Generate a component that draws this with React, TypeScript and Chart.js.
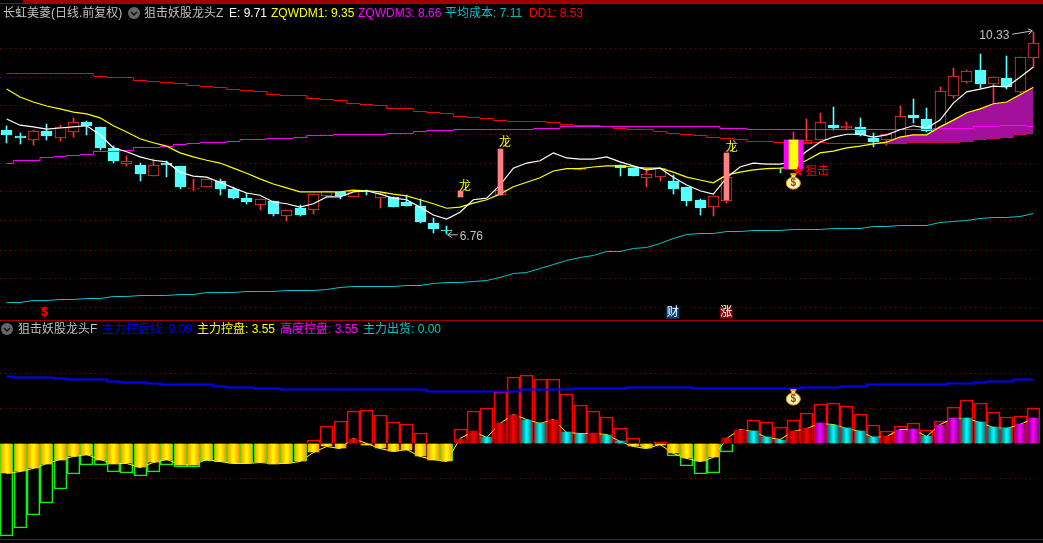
import { useEffect, useRef } from "react";
import { Chart, registerables } from "chart.js";

Chart.register(...registerables);

const FONT = "'Liberation Sans', 'Noto Sans CJK SC', sans-serif";
const RED = "#ff3232";
const CYAN = "#54ffff";
const GRID = "#8c0000";

// price panel, one entry per trading day (null = candle not painted by the formula)
const OPEN = [
  8.60,8.49,8.42,8.58,8.45,8.56,8.74,8.65,8.28,7.99,
  7.98,7.78,8.01,7.96,7.55,7.59,7.69,7.55,7.39,7.27,
  7.34,7.07,7.21,7.18,7.43,7.50,7.41,7.52,7.39,7.41,
  7.32,7.25,6.95,6.83,null,null,null,7.45,null,null,
  null,null,null,7.89,null,null,7.98,7.92,7.75,7.76,
  7.69,7.59,7.36,7.23,7.34,null,null,null,null,7.91,
  8.35,8.42,8.68,8.63,8.65,8.45,8.42,8.44,8.86,8.79,
  8.60,9.20,9.45,9.66,9.41,9.52,9.27,9.87,
];
const CLOSE = [
  8.51,8.46,8.58,8.49,8.65,8.74,8.67,8.28,8.05,8.05,
  7.82,7.98,7.98,7.59,7.57,7.73,7.55,7.39,7.32,7.37,
  7.11,7.18,7.09,7.46,7.52,7.43,7.52,7.51,7.48,7.23,
  7.25,6.97,6.85,6.81,null,null,null,7.53,null,null,
  null,null,null,7.92,null,null,7.92,7.78,7.82,7.92,
  7.55,7.34,7.21,7.43,7.76,null,null,null,null,8.42,
  8.41,8.74,8.63,8.67,8.51,8.38,8.52,8.84,8.81,8.58,
  9.29,9.55,9.64,9.41,9.53,9.36,9.89,10.14,
];
const HIGH = [
  8.67,8.54,8.59,8.70,8.68,8.81,8.75,8.65,8.31,8.14,
  8.01,8.08,8.05,7.96,7.73,7.73,7.73,7.59,7.48,7.37,
  7.34,7.18,7.27,7.46,7.52,7.50,7.52,7.53,7.50,7.41,
  7.44,7.37,7.04,6.90,null,null,null,7.53,null,null,
  null,null,null,7.92,null,null,7.98,7.92,7.91,7.92,
  7.80,7.59,7.37,7.43,7.76,null,null,null,7.91,8.56,
  8.79,8.90,9.00,8.74,8.81,8.54,8.52,9.02,9.14,8.98,
  9.36,9.69,9.66,9.94,9.53,9.91,9.89,10.33,
];
const LOW = [
  8.37,8.35,8.33,8.42,8.40,8.47,8.51,8.24,8.01,7.96,
  7.69,7.78,7.76,7.55,7.52,7.59,7.44,7.37,7.29,7.18,
  7.07,6.98,7.07,7.11,7.43,7.37,7.41,7.44,7.21,7.23,
  7.25,6.95,6.77,6.76,null,null,null,7.45,null,null,
  null,null,null,7.89,null,null,7.78,7.78,7.59,7.69,
  7.46,7.25,7.09,7.07,7.30,null,null,null,7.83,7.91,
  8.35,8.42,8.60,8.60,8.49,8.29,8.33,8.44,8.72,8.56,
  8.60,9.16,9.43,9.34,9.07,9.32,9.25,9.71,
];
const E_LINE = [
  8.79,8.68,8.65,8.61,8.63,8.65,8.67,8.51,8.28,8.21,
  8.12,8.06,8.03,7.85,7.78,7.76,7.67,7.57,7.48,7.44,
  7.32,7.29,7.23,7.29,7.41,7.41,7.50,7.52,7.46,7.39,
  7.36,7.23,7.09,7.02,7.14,7.36,7.39,7.62,7.92,8.01,
  8.05,8.19,8.10,8.08,8.08,8.12,8.03,7.96,7.89,7.92,
  7.76,7.62,7.52,7.46,7.75,7.94,8.01,7.99,7.99,8.03,
  8.22,8.38,8.47,8.52,8.52,8.47,8.51,8.60,8.67,8.63,
  8.77,9.07,9.27,9.32,9.37,9.36,9.53,9.71,
];
const ZQWDM1 = [
  9.32,9.18,9.09,9.02,8.97,8.91,8.88,8.81,8.67,8.56,
  8.44,8.37,8.31,8.19,8.12,8.06,8.01,7.92,7.83,7.73,
  7.64,7.57,7.50,7.50,7.50,7.50,7.53,7.52,7.50,7.46,
  7.43,7.36,7.29,7.21,7.23,7.30,7.36,7.46,7.59,7.67,
  7.75,7.87,7.91,7.91,7.94,7.96,7.96,7.94,7.92,7.92,
  7.85,7.76,7.71,7.66,7.80,7.85,7.89,7.91,7.92,7.94,
  8.06,8.19,8.22,8.28,8.31,8.35,8.38,8.47,8.51,8.51,
  8.65,8.77,8.90,8.97,9.06,9.09,9.22,9.35,
];
const ZQWDM3 = [
  8.01,8.05,8.06,8.10,8.12,8.15,8.17,8.21,8.22,8.24,
  8.28,8.29,8.31,8.33,8.35,8.37,8.38,8.40,8.42,8.42,
  8.44,8.45,8.47,8.49,8.49,8.51,8.51,8.52,8.52,8.54,
  8.54,8.56,8.58,8.58,8.60,8.60,8.60,8.61,8.61,8.61,
  8.63,8.63,8.65,8.65,8.65,8.65,8.65,8.65,8.65,8.65,
  8.65,8.65,8.65,8.65,8.63,8.63,8.61,8.61,8.60,8.60,
  8.60,8.60,8.60,8.60,8.60,8.60,8.60,8.60,8.61,8.61,
  8.63,8.63,8.63,8.65,8.65,8.67,8.67,8.66,
];
const DD1 = [
  9.59,9.59,9.59,9.59,9.59,9.59,9.59,9.55,9.53,9.52,
  9.48,9.46,9.44,9.41,9.39,9.36,9.34,9.32,9.29,9.27,
  9.23,9.21,9.20,9.16,9.14,9.11,9.07,9.04,9.02,8.98,
  8.97,8.93,8.90,8.88,8.84,8.82,8.79,8.77,8.75,8.75,
  8.74,8.72,8.70,8.68,8.67,8.65,8.63,8.61,8.60,8.56,
  8.54,8.52,8.49,8.47,8.44,8.42,8.40,8.40,8.38,8.38,
  8.38,8.37,8.35,8.35,8.35,8.35,8.35,8.35,8.37,8.37,
  8.37,8.38,8.40,8.42,8.44,8.47,8.51,8.53,
];
const AVG_COST = [
  5.55,5.55,5.57,5.57,5.59,5.59,5.62,5.62,5.64,5.64,
  5.66,5.66,5.67,5.69,5.69,5.71,5.71,5.71,5.73,5.73,
  5.73,5.75,5.76,5.76,5.78,5.80,5.82,5.82,5.83,5.83,
  5.85,5.85,5.87,5.89,5.89,5.91,5.94,5.98,6.05,6.08,
  6.15,6.21,6.29,6.33,6.38,6.44,6.45,6.49,6.51,6.58,
  6.68,6.74,6.77,6.77,6.79,6.79,6.81,6.81,6.81,6.83,
  6.84,6.84,6.86,6.86,6.86,6.88,6.88,6.90,6.91,6.91,
  6.95,6.97,7.00,7.02,7.04,7.05,7.07,7.11,
];
const PINK_STICKS: Record<number, [number, number]> = { 34: [7.41, 7.52], 37: [7.45, 8.26], 54: [7.36, 8.19] };
const BLOCK_DAY = 59;
const BLOCK_RANGE: [number, number] = [7.91, 8.42];
const AREA_FROM = 65;
const PRICE_GRID = [10.03, 9.53, 9.02, 8.51, 8.0, 7.5, 6.985, 6.47, 5.96, 5.46];

// indicator panel
const CONTROL_LINE = [
  9.51,9.37,9.37,9.37,9.23,9.09,8.95,8.95,8.80,8.66,
  8.66,8.52,8.38,8.38,8.24,8.24,8.09,7.95,7.95,7.81,
  7.81,7.67,7.67,7.67,7.53,7.53,7.53,7.53,7.53,7.53,
  7.53,7.53,7.38,7.38,7.38,7.38,7.38,7.38,7.38,7.53,
  7.53,7.67,7.67,7.81,7.81,7.81,7.81,7.95,7.95,7.95,
  7.95,7.95,7.81,7.81,7.81,7.81,7.81,7.81,7.81,7.81,
  7.95,7.95,7.95,8.09,8.09,8.24,8.24,8.24,8.38,8.38,
  8.38,8.52,8.52,8.66,8.80,8.80,8.95,9.09,
];
const OUTLINE = [
  -13.16,-12.07,-10.23,-8.52,-6.53,-4.40,-3.12,-3.12,-4.12,-4.26,
  -4.69,-4.12,-3.12,-3.41,-3.41,-2.56,-2.66,-2.84,-2.84,-2.70,
  -2.98,-2.84,-2.56,0.43,2.41,3.12,4.54,4.69,3.98,2.98,
  2.70,1.42,-2.41,-2.56,1.99,4.54,4.97,7.24,9.37,9.66,
  9.09,9.09,6.96,5.40,4.54,3.69,2.13,0.71,-0.43,0.15,
  -1.85,-3.27,-4.40,-4.26,-1.28,1.85,3.27,2.98,2.27,3.27,
  4.26,5.54,5.68,5.25,4.12,2.56,1.70,2.41,2.84,1.85,
  3.12,5.11,6.11,5.68,4.40,3.69,3.83,4.97,
];
const CONTROL = [
  -4.26,-3.98,-3.55,-2.98,-2.41,-1.85,-1.70,-2.41,-2.98,-2.84,
  -3.41,-2.70,-2.41,-3.12,-3.12,-2.41,-2.56,-2.84,-2.84,-2.70,
  -2.98,-2.84,-2.56,-1.28,-0.43,-0.71,0.57,-0.14,-0.71,-1.14,
  -0.99,-1.85,-2.41,-2.56,0.57,1.70,0.85,2.84,3.98,3.27,
  2.84,3.27,1.56,1.28,1.42,1.14,0.28,-0.43,-0.71,-0.28,
  -1.42,-2.13,-2.56,-1.99,0.71,1.85,1.70,0.85,0.43,1.70,
  2.13,2.84,2.56,2.13,1.70,0.85,0.99,1.85,1.99,0.99,
  2.56,3.55,3.55,2.98,2.27,2.13,2.70,3.55,
];
const BAR_KIND = [
  "o","o","o","o","o","o","o","o","o","o",
  "o","o","o","o","o","o","o","o","o","o",
  "o","o","o","o","o","o","r","o","o","o",
  "o","o","o","o","r","r","c","r","r","c",
  "c","r","c","c","r","c","c","o","o","o",
  "o","o","o","o","r","r","c","c","c","r",
  "r","m","c","c","c","c","r","m","m","c",
  "m","m","c","c","c","c","m","m",
];
const KIND_COLORS: Record<string, [string, string]> = {
  o: ["#ff9c00", "#ffff00"],
  r: ["#7c0000", "#ff0000"],
  c: ["#007070", "#00ffff"],
  m: ["#7c007c", "#ff00ff"],
};
const INDICATOR_GRID = [9.94, 4.97, 0, -4.97];

const DAYS = OPEN.map((_, i) => String(i + 1));

const HEADER_TOP = [
  { text: "长虹美菱(日线.前复权)", x: 3, color: "#c0c0c0" },
  { text: "狙击妖股龙头Z", x: 144, color: "#c0c0c0" },
  { text: "E: 9.71", x: 229, color: "#ffffff" },
  { text: "ZQWDM1: 9.35", x: 271, color: "#ffff00" },
  { text: "ZQWDM3: 8.66", x: 358, color: "#ff00ff" },
  { text: "平均成本: 7.11", x: 445, color: "#00c0c0" },
  { text: "DD1: 8.53", x: 529, color: "#ff0000" },
];
const HEADER_BOTTOM = [
  { text: "狙击妖股龙头F", x: 18, color: "#c0c0c0" },
  { text: "主力控盘线: 9.09", x: 102, color: "#0000ff" },
  { text: "主力控盘: 3.55", x: 197, color: "#ffff00" },
  { text: "高度控盘: 3.55", x: 280, color: "#ff00ff" },
  { text: "主力出货: 0.00", x: 363, color: "#00c8c8" },
];

// keep bars on whole pixels and flat lines crisp, the terminal draws without antialiasing
const snapPlugin = {
  id: "snap",
  afterDatasetsUpdate(chart: any) {
    chart.getSortedVisibleDatasetMetas().forEach((meta: any) => {
      meta.data.forEach((el: any) => {
        if (meta.type === "bar") {
          if (el.skip || el.y == null || Number.isNaN(el.y)) return;
          el.x = Math.round(el.x - el.width / 2) + el.width / 2;
          el.y = Math.round(el.y);
          el.base = Math.round(el.base);
          if (el.y === el.base) el.base += 1;
        } else if (chart.data.datasets[meta.index].borderWidth === 1 || chart.data.datasets[meta.index].stepped) {
          el.y = Math.floor(el.y) + 0.5;
        }
      });
    });
  },
};

function drawBag(ctx: CanvasRenderingContext2D, x: number, y: number) {
  ctx.save();
  ctx.fillStyle = "#e8a000";
  ctx.fillRect(x - 3, y - 8, 6, 2);
  ctx.fillStyle = "#fff0b8";
  ctx.fillRect(x - 2, y - 6, 4, 2);
  ctx.beginPath();
  ctx.ellipse(x, y + 2, 7, 6, 0, 0, Math.PI * 2);
  ctx.fillStyle = "#fff0b8";
  ctx.fill();
  ctx.strokeStyle = "#e8a000";
  ctx.lineWidth = 1;
  ctx.stroke();
  ctx.fillStyle = "#8a4a10";
  ctx.font = "bold 10px " + FONT;
  ctx.textAlign = "center";
  ctx.textBaseline = "middle";
  ctx.fillText("$", x, y + 2);
  ctx.restore();
}

function arrow(ctx: CanvasRenderingContext2D, x0: number, y0: number, x1: number, y1: number) {
  const a = Math.atan2(y1 - y0, x1 - x0);
  ctx.beginPath();
  ctx.moveTo(x0, y0);
  ctx.lineTo(x1, y1);
  ctx.moveTo(x1 - 5 * Math.cos(a - 0.6), y1 - 5 * Math.sin(a - 0.6));
  ctx.lineTo(x1, y1);
  ctx.lineTo(x1 - 5 * Math.cos(a + 0.6), y1 - 5 * Math.sin(a + 0.6));
  ctx.stroke();
}

function badge(ctx: CanvasRenderingContext2D, x: number, y: number, text: string, bg: string) {
  ctx.fillStyle = bg;
  ctx.fillRect(x - 6, y - 6, 13, 12);
  ctx.fillStyle = "#ffffff";
  ctx.font = "12px " + FONT;
  ctx.textAlign = "center";
  ctx.textBaseline = "middle";
  ctx.fillText(text, x + 0.5, y);
}

const priceMarks = {
  id: "priceMarks",
  afterDraw(chart: any) {
    const { ctx, scales } = chart;
    const px = (i: number) => scales.x.getPixelForValue(i);
    const py = (v: number) => scales.y.getPixelForValue(v);
    ctx.save();
    ctx.textBaseline = "middle";
    ctx.textAlign = "center";
    ctx.font = "12px " + FONT;
    ctx.fillStyle = "#ffff00";
    ctx.fillText("龙", px(34) + 5, py(7.60));
    ctx.fillText("龙", px(37) + 5, py(8.37));
    ctx.fillText("龙", px(54) + 5, py(8.28));

    ctx.strokeStyle = "#c0c0c0";
    ctx.lineWidth = 1;
    arrow(ctx, px(33) + 11, py(6.74), px(33) + 1, py(6.74));
    arrow(ctx, px(77) - 21, py(10.29), px(77) - 1, py(10.35));
    ctx.fillStyle = "#c0c0c0";
    ctx.textAlign = "left";
    ctx.fillText("6.76", px(33) + 13, py(6.71));
    ctx.fillText("10.33", px(77) - 54, py(10.26));

    ctx.fillStyle = "#ff0000";
    ctx.font = "15px 'DejaVu Sans'";
    ctx.textAlign = "center";
    ctx.fillText("★", px(BLOCK_DAY) + 5, py(7.85));
    ctx.font = "12px " + FONT;
    ctx.textAlign = "left";
    ctx.fillText("狙击", px(BLOCK_DAY) + 12, py(7.85));
    drawBag(ctx, px(BLOCK_DAY), py(7.69));

    ctx.fillStyle = "#ff0000";
    ctx.font = "bold 13px " + FONT;
    ctx.textAlign = "center";
    ctx.fillText("$", px(3) - 2, py(5.36));
    ctx.beginPath();
    ctx.moveTo(px(3) - 2, py(5.47));
    ctx.lineTo(px(3) - 5, py(5.42));
    ctx.lineTo(px(3) + 1, py(5.42));
    ctx.closePath();
    ctx.fill();
    badge(ctx, px(50) - 1, py(5.36), "财", "#0a3f78");
    badge(ctx, px(54) - 1, py(5.36), "涨", "#7c0a0a");
    ctx.restore();
  },
};

const indicatorMarks = {
  id: "indicatorMarks",
  afterDraw(chart: any) {
    drawBag(chart.ctx, chart.scales.x.getPixelForValue(BLOCK_DAY), chart.scales.y.getPixelForValue(6.53));
  },
};

function hiddenScales(min: number, max: number, grid: number[]) {
  return {
    x: { display: false, offset: true, grid: { display: false } },
    y: {
      min,
      max,
      afterBuildTicks: (scale: any) => {
        scale.ticks = grid.map((value) => ({ value }));
      },
      ticks: { display: false },
      grid: { color: GRID, drawTicks: false, lineWidth: 1 },
      border: { display: false, dash: [1, 4] },
    },
  };
}

function baseOptions(min: number, max: number, grid: number[]) {
  return {
    responsive: false,
    animation: false,
    devicePixelRatio: 1,
    layout: { padding: { left: 0, top: 0, bottom: 0, right: 3 } },
    plugins: { legend: { display: false }, tooltip: { enabled: false } },
    elements: { point: { radius: 0 } },
    scales: hiddenScales(min, max, grid),
  } as any;
}

function line(label: string, data: (number | null)[], color: string, order: number, extra: object = {}) {
  return { type: "line", label, data, borderColor: color, borderWidth: 1, pointRadius: 0, tension: 0, fill: false, order, ...extra };
}

function candleColor(i: number) {
  if (OPEN[i] == null) return CYAN;
  return (CLOSE[i] as number) >= (OPEN[i] as number) ? RED : CYAN;
}

function createPrice(canvas: HTMLCanvasElement) {
  return new Chart(canvas, {
    type: "bar",
    data: {
      labels: DAYS,
      datasets: [
        {
          label: "wick",
          data: HIGH.map((h, i) => (h == null ? null : [LOW[i], h])),
          barThickness: 1,
          grouped: false,
          backgroundColor: (c: any) => candleColor(c.dataIndex),
          order: 20,
        },
        {
          label: "body",
          data: OPEN.map((o, i) => (o == null ? null : [o, CLOSE[i]])),
          barThickness: 11,
          grouped: false,
          borderWidth: 1,
          borderSkipped: false,
          borderColor: (c: any) => candleColor(c.dataIndex),
          backgroundColor: (c: any) => (candleColor(c.dataIndex) === RED ? "#000000" : CYAN),
          order: 19,
        },
        line("DD1", DD1, "#ff0000", 12, { stepped: "middle" }),
        line("area", ZQWDM1.map((v, i) => (i >= AREA_FROM ? v : null)), "transparent", 11, {
          borderWidth: 0,
          fill: { target: "-1", above: "#a3109b", below: "#a3109b" },
        }),
        line("平均成本", AVG_COST, "#00c8c8", 9),
        line("ZQWDM3", ZQWDM3, "#ff00ff", 8, { stepped: "middle" }),
        line("ZQWDM1", ZQWDM1, "#ffff00", 7, { borderWidth: 1.2 }),
        line("E", E_LINE, "#ffffff", 6, { borderWidth: 1.2 }),
        {
          label: "stick",
          data: DAYS.map((_, i) => PINK_STICKS[i] ?? null),
          barThickness: 5,
          grouped: false,
          backgroundColor: "#ff8080",
          order: 3,
        },
        {
          label: "block",
          data: DAYS.map((_, i) => (i === BLOCK_DAY ? BLOCK_RANGE : null)),
          barThickness: 19,
          grouped: false,
          backgroundColor: "#ff00ff",
          order: 2,
        },
        {
          label: "block core",
          data: DAYS.map((_, i) => (i === BLOCK_DAY ? BLOCK_RANGE : null)),
          barThickness: 9,
          grouped: false,
          backgroundColor: "#ffff00",
          order: 1,
        },
      ] as any,
    },
    options: baseOptions(5.232, 10.896, PRICE_GRID),
    plugins: [snapPlugin, priceMarks],
  });
}

function createIndicator(canvas: HTMLCanvasElement) {
  return new Chart(canvas, {
    type: "bar",
    data: {
      labels: DAYS,
      datasets: [
        {
          label: "outline",
          data: OUTLINE,
          barThickness: 13,
          grouped: false,
          borderWidth: 1,
          borderSkipped: "start",
          borderColor: (c: any) => (OUTLINE[c.dataIndex] >= 0 ? "#ff0000" : "#14f014"),
          backgroundColor: "transparent",
          order: 5,
        },
        line("主力控盘", CONTROL, "#ffff00", 4),
        {
          label: "主力控盘柱",
          data: CONTROL,
          barThickness: 11,
          grouped: false,
          backgroundColor: (c: any) => {
            const [edge, mid] = KIND_COLORS[BAR_KIND[c.dataIndex] ?? "o"];
            const cx = c.chart.scales.x?.getPixelForValue(c.dataIndex);
            if (!Number.isFinite(cx)) return edge;
            const g = c.chart.ctx.createLinearGradient(cx - 5.5, 0, cx + 5.5, 0);
            g.addColorStop(0, edge);
            g.addColorStop(0.5, mid);
            g.addColorStop(1, edge);
            return g;
          },
          order: 3,
        },
        line("主力控盘线", CONTROL_LINE, "#0000ff", 1, { borderWidth: 2, stepped: "middle" }),
      ] as any,
    },
    options: baseOptions(-14.2, 17.47, INDICATOR_GRID),
    plugins: [snapPlugin, indicatorMarks],
  });
}

function useChart(create: (canvas: HTMLCanvasElement) => Chart) {
  const ref = useRef<HTMLCanvasElement>(null);
  useEffect(() => {
    if (!ref.current) return;
    const chart = create(ref.current);
    return () => chart.destroy();
    // eslint-disable-next-line react-hooks/exhaustive-deps
  }, []);
  return ref;
}

function Rule({ top, left = 0, width = 1043, height = 1 }: { top: number; left?: number; width?: number; height?: number }) {
  return <div style={{ position: "absolute", top, left, width, height, background: "#a00000" }} />;
}

function Fold({ x, y }: { x: number; y: number }) {
  return (
    <svg width={12} height={12} style={{ position: "absolute", left: x, top: y }}>
      <circle cx={6} cy={6} r={6} fill="#666666" />
      <path d="M3 5 L6 8 L9 5" fill="none" stroke="#111111" strokeWidth={1.5} />
    </svg>
  );
}

function Header({ items, top }: { items: { text: string; x: number; color: string }[]; top: number }) {
  return (
    <>
      {items.map((h) => (
        <span key={h.text} style={{ position: "absolute", left: h.x, top, color: h.color, font: "12px/14px " + FONT, whiteSpace: "nowrap" }}>
          {h.text}
        </span>
      ))}
    </>
  );
}

export default function App() {
  const price = useChart(createPrice);
  const indicator = useChart(createIndicator);
  return (
    <div style={{ position: "fixed", inset: 0, background: "#000", overflow: "hidden" }}>
      <canvas ref={price} width={1043} height={320} style={{ position: "absolute", left: 0, top: 0 }} />
      <canvas ref={indicator} width={1043} height={223} style={{ position: "absolute", left: 0, top: 320 }} />
      <Rule top={3} />
      <Rule top={0} left={23} height={3} />
      <Rule top={320} />
      <Rule top={539} />
      <Header items={HEADER_TOP} top={6} />
      <Fold x={128} y={7} />
      <Header items={HEADER_BOTTOM} top={322} />
      <Fold x={1} y={323} />
    </div>
  );
}
